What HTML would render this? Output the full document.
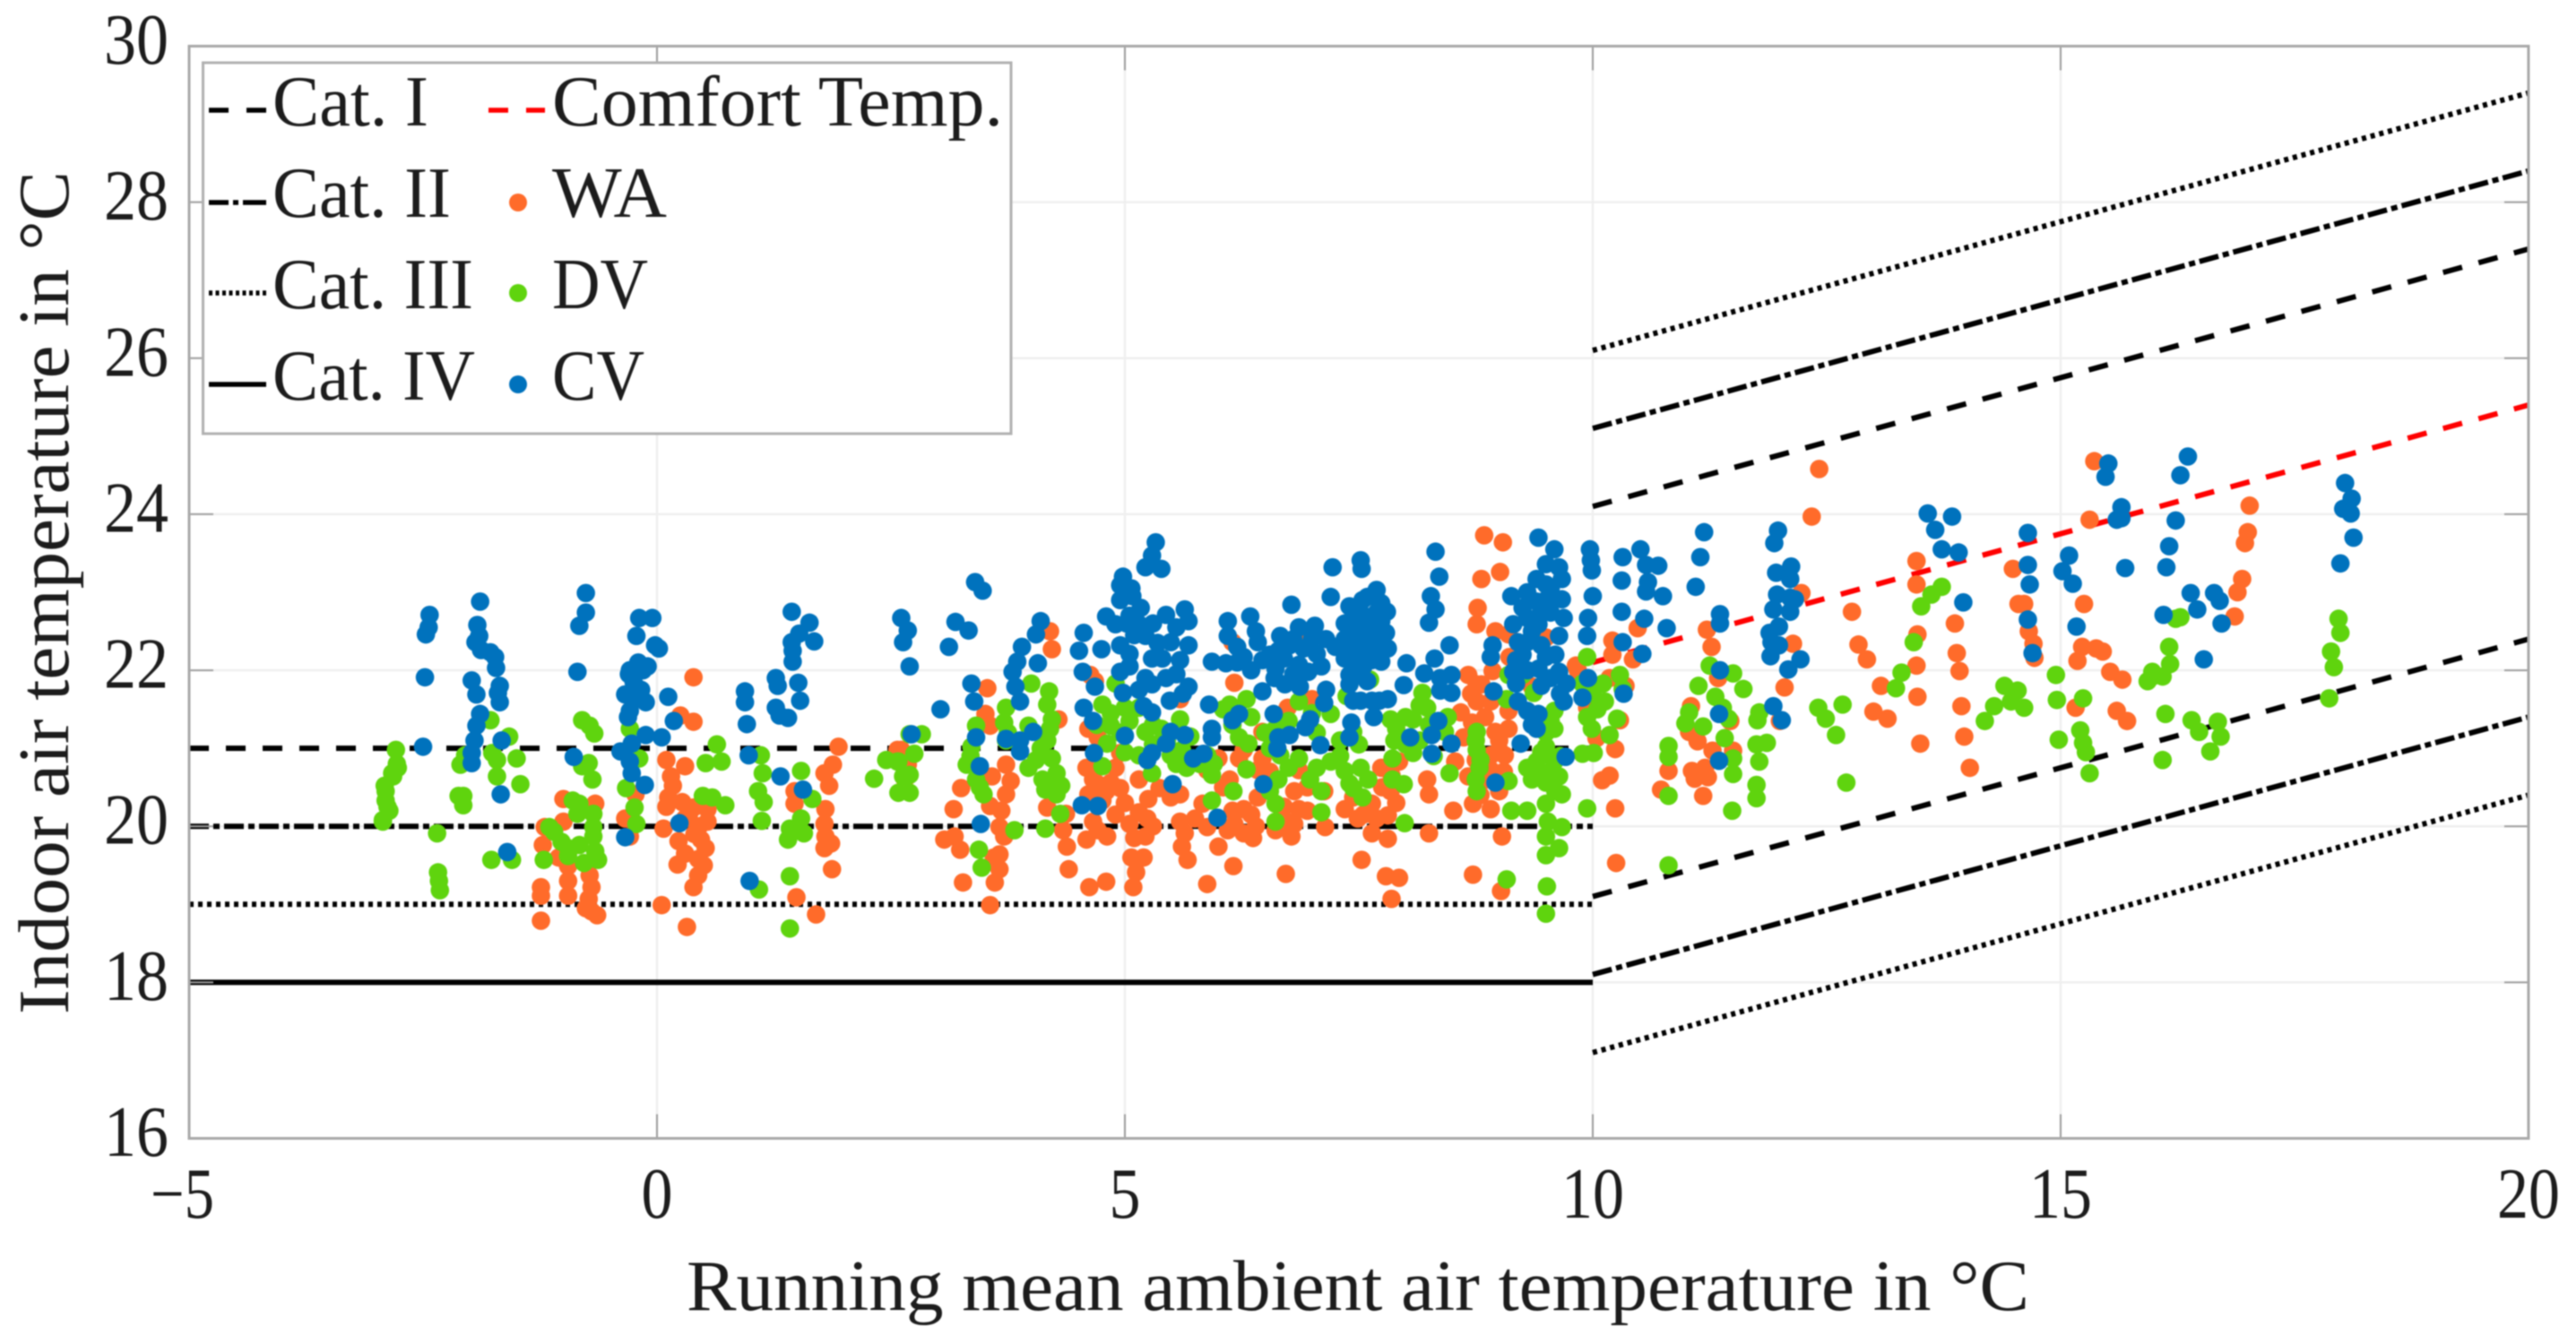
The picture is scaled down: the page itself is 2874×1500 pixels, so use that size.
<!DOCTYPE html>
<html lang="en">
<head>
<meta charset="utf-8">
<title>Indoor air temperature vs running mean ambient air temperature</title>
<style>
html,body{margin:0;padding:0;background:#fff;width:2874px;height:1500px;overflow:hidden}
svg{display:block;filter:blur(0.8px)}
text{font-family:"Liberation Serif",serif;fill:#1c1c1c;font-size:80px}
</style>
</head>
<body>
<svg id="chart" xmlns="http://www.w3.org/2000/svg" width="2874" height="1500" viewBox="0 0 2874 1500">
  <rect x="211" y="51.5" width="2610" height="1219" fill="#fff"/>
  <g id="grid"></g>
  <g id="lines"></g>
  <g id="marks"></g>
  <g id="frame"></g>
  <g id="ticklabels"></g>
  <text x="766" y="1462" textLength="1498" lengthAdjust="spacingAndGlyphs">Running mean ambient air temperature in °C</text>
  <text transform="translate(76,1132) rotate(-90)" x="0" y="0" textLength="941" lengthAdjust="spacingAndGlyphs">Indoor air temperature in °C</text>
  <g>
    <rect x="226.5" y="70" width="901.5" height="414" fill="#fff" stroke="#b0b0b0" stroke-width="3"/>
    <line x1="233" x2="297" y1="123" y2="123" stroke="#000" stroke-width="5.5" stroke-dasharray="22 20"/>
    <line x1="233" x2="297" y1="226" y2="226" stroke="#000" stroke-width="5.5" stroke-dasharray="22 5 6 5 26"/>
    <line x1="233" x2="297" y1="327" y2="327" stroke="#000" stroke-width="5.5" stroke-dasharray="4 3.5"/>
    <line x1="233" x2="297" y1="429" y2="429" stroke="#000" stroke-width="5.5"/>
    <line x1="545" x2="608" y1="123" y2="123" stroke="#f00" stroke-width="5.5" stroke-dasharray="22 20"/>
    <circle cx="578" cy="226" r="10" fill="#ff6b2a"/>
    <circle cx="578" cy="327" r="10" fill="#5fd40e"/>
    <circle cx="578" cy="429" r="10" fill="#0072bd"/>
    <text x="304" y="140" textLength="174" lengthAdjust="spacingAndGlyphs">Cat. I</text>
    <text x="304" y="242" textLength="199" lengthAdjust="spacingAndGlyphs">Cat. II</text>
    <text x="304" y="344" textLength="224" lengthAdjust="spacingAndGlyphs">Cat. III</text>
    <text x="304" y="446" textLength="226" lengthAdjust="spacingAndGlyphs">Cat. IV</text>
    <text x="616" y="140" textLength="503" lengthAdjust="spacingAndGlyphs">Comfort Temp.</text>
    <text x="616" y="242" textLength="128" lengthAdjust="spacingAndGlyphs">WA</text>
    <text x="616" y="344" textLength="107" lengthAdjust="spacingAndGlyphs">DV</text>
    <text x="616" y="446" textLength="103" lengthAdjust="spacingAndGlyphs">CV</text>
  </g>
</svg>
<script>
const xTicks=[-5,0,5,10,15,20];
const yTicks=[16,18,20,22,24,26,28,30];
const xTickLabels=["\u22125","0","5","10","15","20"];
const yTickLabels=["16","18","20","22","24","26","28","30"];
const flatX=[-5,10];
const slopeX=[10,20];
const catIFlat=[21,21];
const catIIFlat=[20,20];
const catIIIFlat=[19,19];
const catIVFlat=[18,18];
const catIUpper=[24.1,27.4];
const catIIUpper=[25.1,28.4];
const catIIIUpper=[26.1,29.4];
const catILower=[19.1,22.4];
const catIILower=[18.1,21.4];
const catIIILower=[17.1,20.4];
const comfortTemp=[22.1,25.4];

const waPoints=[
[.39,21.91],[.25,21.42],[.39,21.34],[.1,20.85],[.3,20.77],[.15,20.64],[.17,20.52],[.12,20.37],[.1,20.25],[.27,20.31],[.39,20.24],[.54,20.22],[.54,20.06],[.34,20.14],[.07,19.97],[.23,19.81],[.47,19.83],[.52,19.72],[.44,19.58],[.22,19.51],[.44,19.37],[.39,19.22],[.05,18.99],[.32,18.71],[.3,20.1],[.45,20],[.5,19.5],[.4,19.9],[.3,19.65],
[1.94,21.02],[1.88,20.79],[1.79,20.68],[1.84,20.52],[1.47,20.45],[1.47,20.29],[1.8,20.22],[1.79,20.03],[1.8,19.87],[1.79,19.72],[1.86,19.78],[1.87,19.45],[1.49,19.09],[1.7,18.87],[2.57,20.98],
[-1.24,19.11],[-1.24,18.79],[-1.24,19.22],[-1,20.35],[-.66,20.29],[-1,20.06],[-1.2,19.99],[-1.22,19.76],[-1.05,19.6],[-.95,19.49],[-.95,19.3],[-.95,19.11],[-.72,19.37],[-.7,19.22],[-.73,19.07],[-.7,18.91],[-.64,18.86],[-.76,18.95],[-.23,20.41],[-.34,20.1],[-.29,19.87],
[2.61,20.98],[2.68,20.79],[2.65,20.6],[3.17,20.22],[3.25,20.49],[3.18,19.87],[3.07,19.83],[3.24,19.7],[3.27,19.28],[3.56,20.26],[3.53,21.77],[3.51,21.44],[3.56,21.29],[3.73,20.79],[3.58,20.64],[3.78,20.58],[3.73,20.41],[3.66,19.99],[3.71,19.87],[3.66,19.64],[3.66,19.45],[3.61,19.28],[3.56,18.99],[3.6,19.6],[3.68,20.2],
[4.2,22.5],[4.22,22.27],[4.29,21.37],[4.17,20.24],[4.37,20.16],[4.34,19.95],[4.38,19.74],[4.4,19.45],
[4.63,21.94],[4.68,21.86],[4.61,21.25],[4.71,21.14],[4.95,20.94],[4.59,20.75],[4.66,20.6],[4.85,20.56],[4.95,20.49],[4.61,20.41],[5.15,20.6],[4.76,20.33],[5.15,20.18],[5.24,20.1],[4.66,20.06],[4.71,19.95],[4.59,19.83],[4.81,19.87],[5.05,20.03],[5.22,19.87],[5.07,19.6],[5.2,19.6],[5.12,19.41],[5.09,19.22],[4.8,19.29],[4.62,19.22],[4.7,20.55],[4.9,20.75],[5,20.3],[5.25,20.35],[5.3,20],[4.9,20.15],[5.1,19.85],[4.8,20.45],
[5.59,21.63],[5.37,20.49],[5.59,20.41],[5.49,20.37],[5.59,20.06],[5.64,19.91],[5.61,19.74],[5.67,19.57],[6,20.87],[5.88,20.72],[5.83,20.29],[5.88,19.99],[6,19.74],[6.16,19.49],[5.88,19.26],[5.75,20.1],[6.05,20.5],[6.15,20.2],[6.1,19.95],
[6.17,21.84],[6.15,22.36],[6.27,20.98],[6.22,20.87],[6.42,20.72],[6.12,20.6],[6.42,20.37],[6.27,20.22],[6.17,20.03],[6.27,19.91],[6.37,19.85],[6.47,20.87],[6.47,21.21],[6.35,20.15],[6.55,20.5],[6.4,20],[6.55,20.7],
[6.74,21.52],[7,21.63],[6.91,22.44],[6.86,20.72],[6.81,20.45],[6.86,20.22],[6.81,20.03],[6.61,19.95],[6.78,19.87],[7.13,20.45],[7.14,19.99],[6.72,19.39],[6.7,20.25],[6.95,20.2],[6.95,20.5],[6.75,20.05],
[7.74,20.75],[7.93,20.83],[7.84,20.45],[7.44,20.37],[7.64,20.29],[7.35,20.22],[7.49,20.1],[7.69,20.1],[7.81,20.14],[7.64,19.91],[7.81,19.84],[7.53,19.57],[7.79,19.36],[7.93,19.34],[7.85,19.07],[7.55,20.15],[7.9,20.3],[7.75,20.5],[7.85,20.65],
[8.23,20.6],[8.25,20.41],[8.25,19.91],[8.51,20.2],[8.72,19.38],
[8.67,21.94],[8.81,21.82],[8.91,21.6],[8.59,21.46],[9.1,21.48],[9.1,21.25],[8.71,21.33],[8.96,21.21],[9.06,20.91],[8.62,21.14],[8.53,20.83],[8.91,20.72],[8.67,20.64],[9,20.45],[8.72,20.29],[8.91,20.22],[9.03,19.87],[9.02,19.17],[8.76,21.6],[9,20.98],[8.91,20.91],[8.76,21.82],[8.85,21.4],[8.75,21.1],[8.85,20.6],[8.75,20.85],[9,21.1],[8.7,21.7],[9.05,20.7],[8.8,20.4],
[8.84,23.73],[9.04,23.64],[8.81,23.17],[9.01,23.26],[8.77,22.8],[8.76,22.59],[8.96,22.5],[9.1,22.46],[9.11,22.17],[8.93,21.99],[9.35,21.79],[9.5,22.42],[9.84,22],[9.94,21.52],[10.18,21.9],[9.82,22.06],
[10.21,22.38],[10.21,22.2],[10.43,22.14],[10.48,22.54],
[12.42,24.58],[12.34,23.97],[12.23,22.99],[12.14,22.34],[12.05,21.78],[12.77,22.75],[12.84,22.33],[12.93,22.14],[13.08,21.8],[13,21.47],[13.15,21.38],[12,21.35],
[11.22,22.52],[11.27,22.3],[11.34,21.9],[11.47,21.35],[11.05,21.54],[11.03,21.21],[11.12,21.09],[11.28,20.97],[11.5,20.97],[10.81,20.71],[10.73,20.47],[11.06,20.71],[11.2,20.75],[11.23,20.63],[11.09,20.61],[11.18,20.39],[10.24,20.99],[10.18,20.65],[10.1,20.59],[10.24,20.23],[10.25,19.53],[10.04,21.13],[10.29,21.36],[10.35,21.8],
[13.46,23.4],[13.46,23.1],[13.47,22.46],[13.46,22.06],[13.47,21.66],[13.5,21.06],[13.87,22.6],[13.89,22.22],[13.92,21.99],[13.94,21.54],[13.97,21.15],[14.03,20.75],
[14.49,23.3],[14.55,22.85],[14.61,22.85],[14.66,22.5],[14.71,22.34],[14.72,22.16],
[15.36,24.68],[15.31,23.93],[15.25,22.85],[15.23,22.3],[15.38,22.28],[15.45,22.24],[15.18,22.12],[15.53,21.98],[15.66,21.88],[15.16,21.52],[15.6,21.48],[15.71,21.35],
[17.02,24.11],[17,23.77],[16.97,23.63],[16.94,23.17],[16.89,23],[16.86,22.69]
];

const dvPoints=[
[-2.79,20.98],[-2.77,20.75],[-2.82,20.64],[-2.9,20.45],[-2.88,20.25],[-2.93,20.08],[-2.78,20.8],[-2.83,20.68],[-2.91,20.52],[-2.9,20.33],[-2.86,20.2],[-2.93,20.06],
[-2.35,19.91],[-2.34,19.41],[-2.33,19.3],[-2.32,19.18],
[-1.78,21.36],[-1.58,21.15],[-2.1,20.79],[-2.05,20.91],[-1.76,20.94],[-1.71,20.85],[-1.5,20.87],[-1.71,20.64],[-1.46,20.54],[-2.07,20.39],[-2.07,20.27],[-2.12,20.39],[-1.77,19.57],[-1.55,19.57],[-1.21,19.57],
[-.8,21.36],[-.72,21.29],[-.67,21.19],[-.8,20.77],[-.73,20.81],[-.69,20.6],[-.33,20.49],
[-.9,20.33],[-.83,20.29],[-.68,20.16],[-.85,20.16],[-.68,19.99],[-.68,19.87],[-1.1,19.93],[-1.02,19.8],[-.95,19.72],[-.83,19.76],[-.95,19.62],[-.66,19.68],[-.63,19.57],[-.78,19.53],[-1.15,19.99],
[-.24,20.24],[-.22,20.03],[-.29,21.25],[-.19,20.87],
[.64,21.05],[.52,20.81],[.69,20.83],[.49,20.39],[.59,20.37],[.73,20.27],
[1.11,20.91],[1.13,20.68],[1.08,20.45],[1.14,20.31],[1.12,20.07],[1.54,20.71],[1.66,20.35],[1.54,20.1],[1.42,19.97],[1.4,19.83],[1.57,19.91],[1.42,19.36],[1.09,19.19],[1.42,18.69],
[2.32,20.61],[2.45,20.85],[2.57,20.83],
[2.7,21.18],[2.83,21.18],[2.75,20.93],[2.7,20.66],[2.63,20.64],[2.7,20.43],[2.58,20.43],[2.58,20.83],
[3.41,21.29],[3.36,21.02],[3.31,20.79],[3.41,20.6],[3.49,20.41],[3.44,19.7],[3.47,19.47],[3.35,20.9],[3.45,20.5],
[3.73,21.52],[3.71,21.33],[3.73,21.1],[3.82,19.95],[3.75,21.2],
[4,21.83],[4.19,21.73],[4.17,21.56],[4.22,21.37],[4.17,21.1],[3.97,20.75],[4.22,20.87],[4.27,20.68],[4.32,20.52],[4.15,20.47],[4.27,20.41],[4.31,20.16],[4.15,19.97],[3.97,21.29],[4.05,20.85],[4.1,21],[4.12,20.6],[4.2,21.25],[4.25,20.55],
[4.76,21.56],[4.9,21.83],[5,21.52],[4.85,21.29],[4.81,21.06],[4.76,20.77],[5.15,21.52],[5.22,21.21],[5.39,21.25],[5.59,21.37],[5.15,20.91],[5.29,20.68],[5.49,20.91],[5.61,20.98],[5.66,20.75],[5.93,20.66],[5.88,20.91],[5.93,20.33],[6.16,20.45],[4.85,21.45],[4.95,21.2],[4.7,21.3],[5.05,21.35],[5.3,21.3],[5,20.95],[5.45,21.1],[5.7,21.15],[5.8,20.8],[5.3,21.05],[5.55,20.8],[5.95,20.8],
[6.3,21.63],[6.12,21.56],[6.22,21.14],[6.32,21.06],[6.3,20.73],[6.05,21.5],[6.15,21.3],[6.35,21.4],[6.5,21.2],[6.55,21],
[6.86,21.6],[6.61,21.25],[6.66,20.91],[6.64,20.6],[6.86,20.87],[6.61,20.29],[6.61,20.06],[6.98,20.6],[7.1,20.45],[7.1,20.18],[6.75,21.35],[6.75,20.75],[6.55,20.45],[7,21.45],[7.05,21.2],[7.05,20.75],
[7.2,21.44],[7.44,21.21],[7.2,20.83],[7.35,20.71],[7.52,20.75],[7.54,20.37],[7.44,20.49],[7.62,21.88],[7.37,21.67],[7.3,21.1],[7.3,20.9],[7.5,21.05],[7.4,20.55],[7.6,20.6],
[7.84,21.37],[7.88,21.1],[7.86,20.87],[7.86,20.6],[7.98,20.54],[7.99,20.04],[7.9,21.25],[8,21.4],[8,21.05],
[8.18,21.71],[8.23,21.52],[8.08,21.37],[8.08,20.94],[8.42,21.21],[8.47,20.68],[8.76,21.21],[8.76,20.98],[8.79,20.75],[8.76,20.45],[8.15,21.55],[8.25,21.3],[8.15,21.1],[8.3,20.9],[8.45,21.4],[8.75,21.1],[8.75,20.6],[8.8,20.85],
[9.1,21.94],[9.25,21.94],[9.08,21.63],[9.37,21.71],[9.1,20.58],
[9.59,21.48],[9.59,21.25],[9.5,21.02],[9.4,20.83],[9.59,20.83],[9.35,20.6],[9.5,20.56],[9.64,20.64],[9.5,20.29],[9.67,20.41],[9.13,20.2],[9.3,20.2],[9.94,20.23],[9.89,20.93],[10.01,20.94],[9.55,21.35],[9.5,21.2],[9.45,20.95],[9.65,20.9],[9.55,20.7],[9.4,20.65],[9.3,20.75],[9.6,20.45],
[9.52,20.06],[9.67,19.99],[9.5,19.87],[9.64,19.72],[9.5,19.63],[9.08,19.32],[9.51,19.23],[9.5,18.88],
[9.94,22.17],[9.89,21.83],[10.11,21.83],[10.13,21.6],[9.94,21.4],[9.99,21.25],[10.18,21.17],[10,21.7],[10.05,21.5],
[10.29,21.94],[10.32,21.76],[10.26,21.38],
[10.81,21.03],[10.81,20.89],[10.81,20.39],[10.81,19.5],
[11.13,21.8],[11.25,22.06],[11.5,21.96],[11.61,21.76],[11.31,21.66],[11.39,21.52],[11.03,21.46],[10.99,21.32],[11.18,21.28],[11.45,21.38],[11.41,21.13],[11.78,21.46],[11.76,21.36],
[11.75,21.05],[11.86,21.07],[11.78,20.83],[11.5,20.87],[11.5,20.67],[11.75,20.53],[11.75,20.36],[11.49,20.2],
[12.41,21.52],[12.49,21.38],[12.6,21.17],[12.67,21.56],[12.71,20.56],
[13.73,23.07],[13.62,22.97],[13.51,22.82],[13.43,22.36],[13.3,21.97],[13.24,21.77],
[14.4,21.8],[14.54,21.74],[14.47,21.6],[14.61,21.52],[14.29,21.54],[14.19,21.35],[14.95,21.94],[14.96,21.62],[15.24,21.64],[14.98,21.11],[15.21,21.23],[15.24,21.07],[15.27,20.95],[15.31,20.68],
[16.16,22.3],[16.17,22.08],[15.98,21.98],[16.09,21.92],[15.93,21.86],[15.98,21.92],[16.12,21.44],[16.4,21.36],[16.48,21.21],[16.6,20.96],[16.68,21.34],[16.71,21.15],[16.09,20.85],
[16.28,22.68],[16.23,22.66],
[17.97,22.66],[17.99,22.48],[17.89,22.24],[17.92,22.04],[17.87,21.64]
];

const cvPoints=[
[-2.43,22.71],[-2.44,22.55],[-2.47,22.46],[-2.48,21.91],[-2.5,21.02],
[-1.89,22.88],[-1.92,22.58],[-1.9,22.44],[-1.94,22.36],[-1.88,22.26],[-1.78,22.23],[-1.73,22.17],[-1.72,22.03],[-1.98,21.87],[-1.93,21.69],[-1.68,21.8],[-1.7,21.71],[-1.68,21.59],[-1.89,21.44],[-1.93,21.29],[-1.95,21.1],[-1.98,20.94],[-1.98,20.81],[-1.66,21.1],[-1.67,20.41],[-1.6,19.67],
[-.76,22.99],[-.76,22.74],[-.83,22.57],[-.85,21.98],[-.89,20.89],
[-.19,22.67],[-.05,22.67],[-.22,22.44],[-.02,22.32],[.02,22.28],[-.29,22],[-.15,22],[-.3,21.95],[-.1,22.05],[-.2,22.1],[-.25,21.85],[-.17,21.75],[-.34,21.69],[-.12,21.59],[-.24,21.63],[-.31,21.4],[-.29,21.48],[-.12,21.17],[-.27,21.06],[-.39,20.96],[-.29,20.83],[-.27,20.68],[-.13,20.53],[-.34,19.86],[.05,21.14],[.12,21.66],[.18,21.35],[.24,20.04],
[1.44,22.75],[1.63,22.61],[1.52,22.47],[1.44,22.36],[1.45,22.25],[1.45,22.11],[1.68,22.37],[1.51,21.84],[1.27,21.9],[1.29,21.8],[1.53,21.61],[1.27,21.52],[1.31,21.42],[1.4,21.39],[.94,21.73],[.94,21.59],[.96,21.31],[.98,20.91],[1.32,20.64],[1.56,20.47],[.99,19.3],
[2.61,22.67],[2.68,22.51],[2.63,22.36],[2.7,22.05],[3.12,22.3],[3.03,21.5],[3.19,22.62],[3.33,22.51],[3.4,23.13],[3.48,23.02],[2.72,21.18],
[4.1,22.63],[4.05,22.46],[3.9,22.3],[3.85,22.11],[4.07,22.09],[3.8,21.98],[3.83,21.79],[3.88,21.6],[3.36,21.83],[3.39,21.6],[3.41,21.14],[3.45,20.77],[3.46,20.03],[3.73,21.12],[3.88,21.1],[4.02,21.21],[3.88,20.96],
[4.56,22.48],[4.51,22.25],[4.75,22.27],[4.55,21.98],[4.68,21.79],[4.56,21.52],[4.66,21.35],[4.67,20.94],[4.54,20.27],[4.71,20.26],
[4.98,23.2],[4.95,23.09],[5.07,23.05],[5.22,23.32],[5.29,23.47],[5.33,23.64],[5.39,23.3],[4.8,22.69],[4.95,22.9],[4.9,22.59],[5.17,22.8],[5.15,22.59],[4.95,22.32],[5.05,22.21],[4.95,21.98],[5.22,22.44],[5.22,21.9],[5.29,21.82],[5.44,22.71],[5.64,22.78],[5.68,22.63],[5.29,22.15],[5.49,22.36],[5.68,22.32],[5.59,22.13],[5.44,21.9],[5.68,21.79],[4.98,21.71],[5.2,21.54],[5.29,21.46],[5.48,21.61],[5,21.16],[5.49,21.21],[5.64,21.17],[5.44,21.06],[5.29,20.94],[5.24,20.85],[5.51,20.54],[5.73,20.87],[5.84,20.93],[5.99,20.11],
[5.05,22.7],[5.1,22.45],[5.3,22.6],[5.35,22.35],[5.55,22.55],[5.4,22.15],[5.05,22.05],[5.15,21.75],[5.55,21.95],[5.62,21.7],[5.08,22.95],[5.02,22.6],
[6.1,22.63],[6.34,22.69],[6.1,22.44],[5.93,22.11],[6.08,22.09],[6.27,22.17],[6.42,22.36],[6.47,22.13],[5.9,21.56],[5.93,21.25],[5.93,21.14],[6.15,21.36],[6.22,21.44],[6.2,22.3],[6.2,22.1],[6.35,22],[6.4,22.5],
[6.78,22.84],[7.22,23.32],[7.52,23.41],[7.53,23.3],[7.2,22.94],[6.86,22.55],[7.03,22.57],[6.66,22.44],[6.64,22.25],[6.76,22.32],[6.91,22.28],[7.15,22.4],[7.05,22.21],[6.86,22.07],[6.61,22.02],[6.96,21.98],[6.47,21.73],[6.71,21.82],[6.87,21.79],[7.15,21.75],[7.13,21.58],[6.59,21.44],[6.98,21.37],[6.93,21.27],[6.64,21.14],[6.76,21.17],[6.63,21],[7.09,21.04],[6.48,20.54],[6.7,22.15],[6.8,22.4],[7,22.4],[6.8,21.95],[7.1,22.05],[7.25,22.3],[6.55,22.2],[6.6,21.9],
[7.4,22.82],[7.69,23.03],[7.59,22.94],[7.74,22.86],[7.4,22.59],[7.54,22.71],[7.74,22.63],[7.35,22.4],[7.49,22.28],[7.79,22.48],[7.81,22.28],[7.64,22.28],[7.44,22.13],[7.74,22.11],[7.4,21.94],[7.59,21.86],[7.4,21.82],[7.44,21.61],[7.64,21.61],[7.81,21.63],[7.66,21.4],[7.42,21.33],[7.4,21.14],[7.54,22.48],[7.69,22.74],[7.4,22.36],[7.64,22.13],[7.54,22.9],[7.47,22.65],[7.62,22.55],[7.5,22.15],[7.75,22.4],[7.5,21.95],[7.45,22.5],[7.6,22.4],[7.7,22.2],[7.55,22.05],[7.8,22.75],[7.5,22.8],[7.35,22.6],[7.35,22.15],[7.52,21.61],[7.72,21.61],
[8.32,23.52],[8.36,23.2],[8.27,22.95],[8.32,22.78],[8.25,22.61],[8.47,22.32],[8.31,22.15],[8.01,22.09],[8.2,21.96],[8.37,21.9],[8.49,21.94],[7.98,21.81],[8.37,21.74],[8.49,21.71],[8.35,21.35],[8.28,21.17],[8.05,21.14],[8.49,21.06],[8.28,20.93],
[9.42,23.7],[9.59,23.55],[9.5,23.36],[9.64,23.32],[9.67,23.17],[9.4,23.17],[9.13,22.95],[9.67,22.91],[9.4,22.88],[9.3,22.67],[9.15,22.59],[9.42,22.59],[9.69,22.67],[9.2,22.36],[9.45,22.32],[9.64,22.44],[9.18,22.13],[9.42,22.02],[9.64,21.98],[9.72,21.83],[9.18,21.83],[9.69,21.6],[9.3,21.48],[9.42,21.44],[9.4,21.25],[9.23,21.06],[9.71,20.89],[8.96,20.56],[8.93,22.32],[8.91,22.17],[8.94,21.73],[9.55,23.05],[9.3,22.36],[9.55,22.74],[9.15,21.98],[9.5,22.17],[9.25,22.8],[9.35,22.5],[9.5,22.9],[9.6,22.2],[9.3,22],[9.2,21.6],[9.45,21.8],[9.35,21.3],[9.55,21.9],[9.65,21.7],[9.5,23.1],[9.3,23],[9.45,22.75],[9.25,22.2],
[9.97,23.55],[9.98,23.41],[9.99,23.28],[10,22.95],[9.95,22.67],[9.94,22.44],[9.95,21.9],[9.89,21.65],
[10.32,23.45],[10.51,23.55],[10.57,23.35],[10.7,23.34],[10.31,23.15],[10.59,23.13],[10.57,23.01],[10.75,22.95],[10.31,22.75],[10.55,22.66],[10.32,22.36],[10.79,22.54],[10.53,22.21],[11.19,23.77],[11.15,23.45],[11.1,23.07],[11.36,22.72],[11.36,22.6],[11.36,22],
[11.98,23.79],[11.94,23.63],[12.12,23.33],[12.11,23.17],[11.96,23.25],[11.97,22.97],[12.11,22.93],[12.16,22.91],[11.93,22.78],[12.11,22.75],[11.99,22.56],[11.89,22.48],[11.91,22.36],[11.99,22.32],[11.9,22.18],[12.22,22.14],[12.09,22.01],[10.33,21.7],[11.35,21.44],[11.93,21.54],[12.02,21.36],[11.35,20.84],
[13.58,24.01],[13.84,23.97],[13.66,23.8],[13.73,23.55],[13.91,23.51],[13.96,22.87],
[14.65,23.76],[14.65,23.35],[14.67,23.1],[14.65,22.65],[14.7,22.22],[15.09,23.47],[15.02,23.27],[15.13,23.11],[15.17,22.56],
[15.51,24.65],[15.48,24.48],[15.65,24.09],[15.65,23.95],[15.6,23.93],[16.23,23.92],[16.16,23.59],[16.13,23.32],[15.69,23.31],[16.36,24.74],[16.28,24.5],
[16.1,22.71],[16.39,22.99],[16.46,22.78],[16.64,22.99],[16.7,22.89],[16.72,22.6],[16.53,22.14],
[18.04,24.4],[18.11,24.2],[18.02,24.07],[18.1,24.01],[18.13,23.7],[17.99,23.37]
];

const NS='http://www.w3.org/2000/svg';
const plotLeft=211, plotRight=2821, plotTop=51.5, plotBottom=1270.5;
function sx(v){return plotLeft+(v+5)*(plotRight-plotLeft)/25;}
function sy(v){return plotBottom-(v-16)*(plotBottom-plotTop)/14;}
function mk(parent,tag,attrs){
  const el=document.createElementNS(NS,tag);
  for(const k in attrs){el.setAttribute(k,attrs[k]);}
  parent.appendChild(el);
  return el;
}
const grid=document.getElementById('grid');
const frame=document.getElementById('frame');
const labels=document.getElementById('ticklabels');
const linesG=document.getElementById('lines');
const marks=document.getElementById('marks');

xTicks.forEach(function(t,i){
  const g=mk(grid,'line',{x1:sx(t),x2:sx(t),y1:plotTop,y2:plotBottom,stroke:'#efefef','stroke-width':2.5});
  
  
  const a=mk(frame,'line',{x1:sx(t),x2:sx(t),y1:plotBottom,y2:plotBottom-27,stroke:'#a0a0a0','stroke-width':2});
  
  
  const b=mk(frame,'line',{x1:sx(t),x2:sx(t),y1:plotTop,y2:plotTop+27,stroke:'#a0a0a0','stroke-width':2});
  
  
  const s=xTickLabels[i];
  const w=(s.length===2&&s[0]==='\u2212')?71:(s.length*35);
  const tx=(s[0]==='\u2212')?168:sx(t)-w/2;
  const l=mk(labels,'text',{x:tx,y:1359,textLength:w,lengthAdjust:'spacingAndGlyphs'});
  l.textContent=s;
  
  
});
yTicks.forEach(function(t,i){
  const g=mk(grid,'line',{x1:plotLeft,x2:plotRight,y1:sy(t),y2:sy(t),stroke:'#efefef','stroke-width':2.5});
  
  
  const a=mk(frame,'line',{x1:plotLeft,x2:plotLeft+27,y1:sy(t),y2:sy(t),stroke:'#a0a0a0','stroke-width':2});
  
  
  const b=mk(frame,'line',{x1:plotRight,x2:plotRight-27,y1:sy(t),y2:sy(t),stroke:'#a0a0a0','stroke-width':2});
  
  
  const l=mk(labels,'text',{x:116,y:sy(t)+19.5,textLength:72,lengthAdjust:'spacingAndGlyphs'});
  l.textContent=yTickLabels[i];
  
  
});
const box=mk(frame,'rect',{x:plotLeft,y:plotTop,width:plotRight-plotLeft,height:plotBottom-plotTop,fill:'none',stroke:'#a8a8a8','stroke-width':3});



const DASH='22 19', DASHDOT='22 5 7 5', DOT='5 5';
function drawLine(xs,ys,dash,color,width,name){
  const l=mk(linesG,'line',{x1:sx(xs[0]),y1:sy(ys[0]),x2:sx(xs[1]),y2:sy(ys[1]),stroke:color,'stroke-width':width});
  if(dash){l.setAttribute('stroke-dasharray',dash);}
  
  
}
drawLine(flatX,catIFlat,DASH,'#000',6,'cat-i-flat-line');
drawLine(flatX,catIIFlat,DASHDOT,'#000',6,'cat-ii-flat-line');
drawLine(flatX,catIIIFlat,DOT,'#000',6,'cat-iii-flat-line');
drawLine(flatX,catIVFlat,null,'#000',6,'cat-iv-flat-line');
drawLine(slopeX,catIUpper,DASH,'#000',6,'cat-i-upper-line');
drawLine(slopeX,catIIUpper,DASHDOT,'#000',6,'cat-ii-upper-line');
drawLine(slopeX,catIIIUpper,DOT,'#000',6,'cat-iii-upper-line');
drawLine(slopeX,catILower,DASH,'#000',6,'cat-i-lower-line');
drawLine(slopeX,catIILower,DASHDOT,'#000',6,'cat-ii-lower-line');
drawLine(slopeX,catIIILower,DOT,'#000',6,'cat-iii-lower-line');
drawLine(slopeX,comfortTemp,DASH,'#f00',6,'comfort-temp-line');

function drawPoints(points,color,name){
  points.forEach(function(p){
    const c=mk(marks,'circle',{cx:sx(p[0]),cy:sy(p[1]),r:10.3,fill:color});
    
    
  });
}
drawPoints(waPoints,'#ff6b2a','wa-point');
drawPoints(dvPoints,'#5fd40e','dv-point');
drawPoints(cvPoints,'#0072bd','cv-point');
</script>
</body>
</html>
